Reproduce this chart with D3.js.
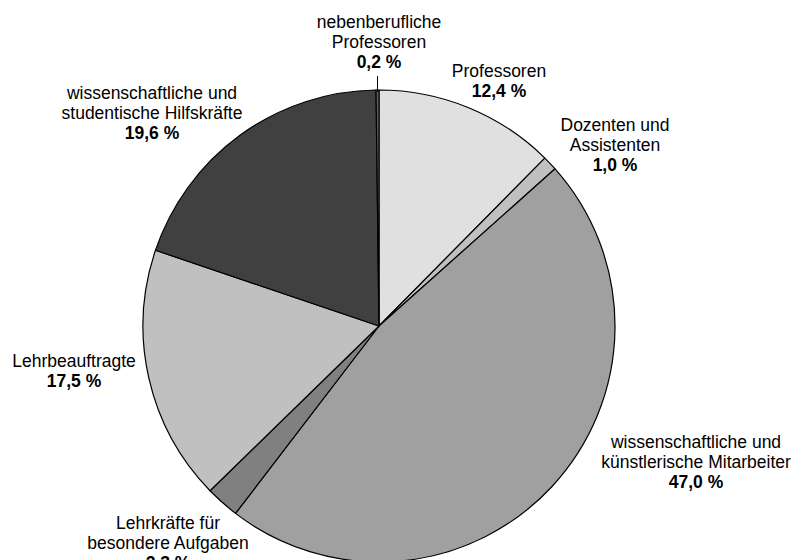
<!DOCTYPE html>
<html>
<head>
<meta charset="utf-8">
<script src="https://cdn.jsdelivr.net/npm/d3@7/dist/d3.min.js"></script>
<style>
  html, body { margin: 0; padding: 0; background: #fff; }
  svg { display: block; }
  text { font-family: "Liberation Sans", Arial, sans-serif; font-size: 17.5px; fill: #000; }
</style>
</head>
<body>
<svg id="chart" width="795" height="560"></svg>
<script>
// Data
const categories = [
  "Professoren",
  "Dozenten und Assistenten",
  "wissenschaftliche und künstlerische Mitarbeiter",
  "Lehrkräfte für besondere Aufgaben",
  "Lehrbeauftragte",
  "wissenschaftliche und studentische Hilfskräfte",
  "nebenberufliche Professoren"
];
const values = [12.4, 1.0, 47.0, 2.3, 17.5, 19.6, 0.2];
const labelLines = [
  ["Professoren"],
  ["Dozenten und", "Assistenten"],
  ["wissenschaftliche und", "künstlerische Mitarbeiter"],
  ["Lehrkräfte für", "besondere Aufgaben"],
  ["Lehrbeauftragte"],
  ["wissenschaftliche und", "studentische Hilfskräfte"],
  ["nebenberufliche", "Professoren"]
];
const fills = ["#e0e0e0", "#c0c0c0", "#a0a0a0", "#808080", "#c0c0c0", "#404040", "#606060"];
// label block anchors (center x, first-line center y)
const labelAnchors = [
  [499, 71], [615, 125], [696, 442], [168, 523], [74, 361], [152, 93], [379, 22]
];

const fmt = v => v.toFixed(1).replace(".", ",") + " %";

const svg = d3.select("#chart");
const cx = 379, cy = 326, r = 236;
const g = svg.append("g").attr("transform", `translate(${cx},${cy})`);

const pie = d3.pie().sort(null).value(d => d).startAngle(0).endAngle(2 * Math.PI);
const arcs = pie(values);
const arc = d3.arc().innerRadius(0).outerRadius(r);

g.selectAll("path.slice")
  .data(arcs)
  .join("path")
  .attr("class", "slice")
  .attr("d", arc)
  .attr("fill", (d, i) => fills[i])
  .attr("stroke", "#000")
  .attr("stroke-width", 1.2)
  .attr("stroke-linejoin", "round");

// Leader line for the tiny slice
const tiny = arcs[6];
const midA = (tiny.startAngle + tiny.endAngle) / 2;
const lx = cx + r * Math.sin(midA);
svg.append("line")
  .attr("x1", lx).attr("x2", lx)
  .attr("y1", cy - r - 14).attr("y2", cy - r + 2)
  .attr("stroke", "#000").attr("stroke-width", 1);

const lineH = 20;
const labels = svg.selectAll("text.lbl")
  .data(arcs)
  .join("text")
  .attr("class", "lbl")
  .attr("text-anchor", "middle")
  .attr("x", (d, i) => labelAnchors[i][0])
  .attr("y", (d, i) => labelAnchors[i][1] + 6);

labels.each(function(d, i) {
  const t = d3.select(this);
  const lines = labelLines[i];
  lines.forEach((ln, k) => {
    t.append("tspan")
      .attr("x", labelAnchors[i][0])
      .attr("dy", k === 0 ? 0 : lineH)
      .text(ln);
  });
  t.append("tspan")
    .attr("x", labelAnchors[i][0])
    .attr("dy", lineH)
    .attr("font-weight", "bold")
    .text(fmt(values[i]));
});
</script>
</body>
</html>
